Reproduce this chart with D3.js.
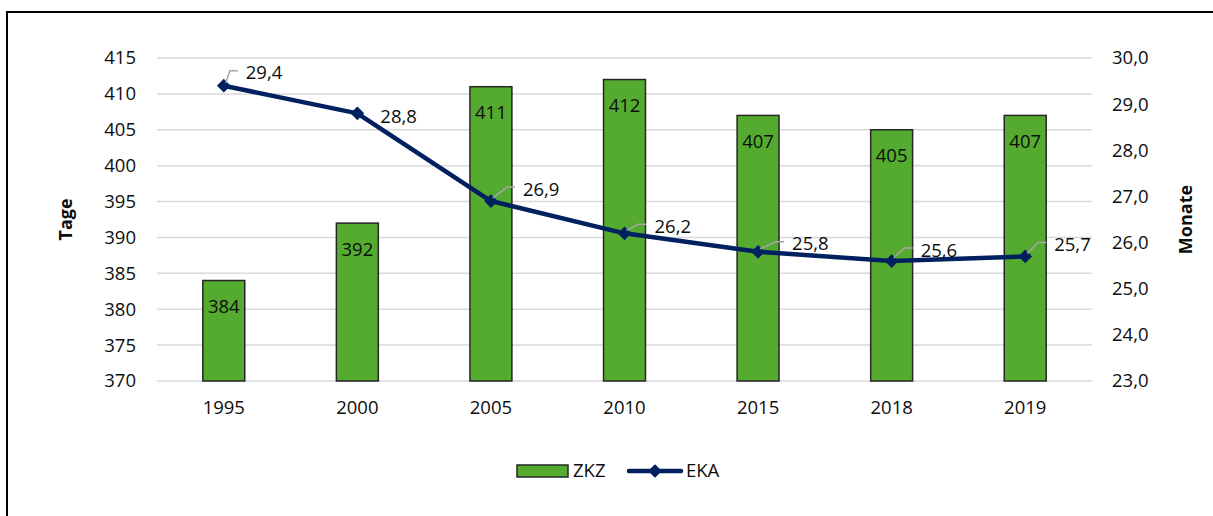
<!DOCTYPE html>
<html>
<head>
<meta charset="utf-8">
<script src="https://cdn.jsdelivr.net/npm/d3@7"></script>
<style>
  body { margin: 0; background: #fff; }
  text { font-family: "Open Sans", "Noto Sans", sans-serif; fill: #0d0d0d; }
</style>
</head>
<body>
<svg id="chart" width="1213" height="516"></svg>
<script>
// chart values
const years = ["1995", "2000", "2005", "2010", "2015", "2018", "2019"];
const zkz = [384, 392, 411, 412, 407, 405, 407];   // Tage
const eka = [29.4, 28.8, 26.9, 26.2, 25.8, 25.6, 25.7]; // Monate
const leftTicks = [370, 375, 380, 385, 390, 395, 400, 405, 410, 415];
const rightTicks = [23, 24, 25, 26, 27, 28, 29, 30];

var svg = d3.select("#chart");
var width = 1213, height = 516;
var margin = {top: 58, right: 121, bottom: 135, left: 157};
var plotBottom = height - margin.bottom;
var fontSize = "18.5px";

var green = "#54ab2f";
var navy = "#002060";

// outer frame (cropped at right and bottom)
svg.append("rect")
  .attr("x", 7).attr("y", 12)
  .attr("width", 1400).attr("height", 700)
  .attr("fill", "none")
  .attr("stroke", "#000")
  .attr("stroke-width", 2);

var x = d3.scaleBand()
  .domain(years)
  .range([margin.left, width - margin.right])
  .paddingInner(0.686)
  .paddingOuter(0.343);

var yLeft = d3.scaleLinear()
  .domain([370, 415])
  .range([plotBottom, margin.top]);

var yRight = d3.scaleLinear()
  .domain([23, 30])
  .range([plotBottom, margin.top]);

var fmt = function(v) { return d3.format(".1f")(v).replace(".", ","); };

// gridlines
svg.append("g")
  .selectAll("line")
  .data(leftTicks)
  .enter().append("line")
  .attr("x1", margin.left)
  .attr("x2", width - margin.right)
  .attr("y1", function(d) { return yLeft(d); })
  .attr("y2", function(d) { return yLeft(d); })
  .attr("stroke", "#d9d9d9")
  .attr("stroke-width", 1.5);

// left axis
var gl = svg.append("g")
  .attr("transform", "translate(" + margin.left + ",0)")
  .call(d3.axisLeft(yLeft).tickValues(leftTicks).tickSize(0).tickPadding(21));
gl.select(".domain").remove();
gl.selectAll("text").style("font-size", fontSize).attr("fill", "#0d0d0d");

// right axis
var gr = svg.append("g")
  .attr("transform", "translate(" + (width - margin.right) + ",0)")
  .call(d3.axisRight(yRight).tickValues(rightTicks).tickSize(0).tickPadding(20).tickFormat(fmt));
gr.select(".domain").remove();
gr.selectAll("text").style("font-size", fontSize).attr("fill", "#0d0d0d");

// bottom axis
var gb = svg.append("g")
  .attr("transform", "translate(0," + plotBottom + ")")
  .call(d3.axisBottom(x).tickSize(0).tickPadding(20));
gb.select(".domain").remove();
gb.selectAll("text").style("font-size", fontSize).attr("fill", "#0d0d0d");

// axis titles
svg.append("text")
  .attr("transform", "translate(72," + (margin.top + plotBottom) / 2 + ") rotate(-90)")
  .style("text-anchor", "middle")
  .style("font-size", "18px")
  .style("font-weight", "bold")
  .text("Tage");

svg.append("text")
  .attr("transform", "translate(1192," + (margin.top + plotBottom) / 2 + ") rotate(-90)")
  .style("text-anchor", "middle")
  .style("font-size", "18px")
  .style("font-weight", "bold")
  .text("Monate");

// bars
svg.selectAll(".bar")
  .data(zkz)
  .enter().append("rect")
  .attr("class", "bar")
  .attr("x", function(d, i) { return x(years[i]); })
  .attr("y", function(d) { return yLeft(d); })
  .attr("width", x.bandwidth())
  .attr("height", function(d) { return plotBottom - yLeft(d); })
  .attr("fill", green)
  .attr("stroke", "#262626")
  .attr("stroke-width", 1.5);

svg.selectAll(".bar-label")
  .data(zkz)
  .enter().append("text")
  .attr("class", "bar-label")
  .attr("x", function(d, i) { return x(years[i]) + x.bandwidth() / 2; })
  .attr("y", function(d) { return yLeft(d) + 26; })
  .attr("dy", "0.35em")
  .style("text-anchor", "middle")
  .style("font-size", fontSize)
  .text(function(d) { return d; });

// line
var cx = function(i) { return x(years[i]) + x.bandwidth() / 2; };
var line = d3.line()
  .x(function(d, i) { return cx(i); })
  .y(function(d) { return yRight(d); });

svg.append("path")
  .datum(eka)
  .attr("d", line)
  .attr("fill", "none")
  .attr("stroke", navy)
  .attr("stroke-width", 4.5)
  .attr("stroke-linejoin", "round");

var diamond = d3.symbol().type(d3.symbolDiamond2).size(120);
svg.selectAll(".marker")
  .data(eka)
  .enter().append("path")
  .attr("class", "marker")
  .attr("transform", function(d, i) { return "translate(" + cx(i) + "," + yRight(d) + ")"; })
  .attr("d", diamond)
  .attr("fill", navy);

// label placement (offset from the point, as in the original)
var labelOffset = [[22, -13], [23, 3], [32, -12], [30, -7], [34, -8], [29, -11], [29, -12]];

svg.selectAll(".leader")
  .data(eka)
  .enter().append("path")
  .attr("class", "leader")
  .attr("d", function(d, i) {
    var o = labelOffset[i];
    if (o[1] > 0) return null;
    var px = cx(i), py = yRight(d);
    var tx = px + o[0], ty = py + o[1] - 2;
    return "M" + (px + 2) + "," + (py - 3) + "L" + (tx - 16) + "," + ty + "L" + (tx - 8) + "," + ty;
  })
  .attr("fill", "none")
  .attr("stroke", "#a6a6a6")
  .attr("stroke-width", 1.5);

svg.selectAll(".line-label")
  .data(eka)
  .enter().append("text")
  .attr("class", "line-label")
  .attr("x", function(d, i) { return cx(i) + labelOffset[i][0]; })
  .attr("y", function(d, i) { return yRight(d) + labelOffset[i][1]; })
  .attr("dy", "0.35em")
  .style("font-size", fontSize)
  .text(function(d) { return fmt(d); });

// legend
var legend = svg.append("g").attr("transform", "translate(0,471)");
legend.append("rect")
  .attr("x", 517).attr("y", -6)
  .attr("width", 51).attr("height", 12)
  .attr("fill", green)
  .attr("stroke", "#262626")
  .attr("stroke-width", 1.5);
legend.append("text")
  .attr("x", 573).attr("dy", "0.35em")
  .style("font-size", fontSize)
  .text("ZKZ");
legend.append("line")
  .attr("x1", 629).attr("x2", 681)
  .attr("stroke", navy)
  .attr("stroke-width", 4.5)
  .attr("stroke-linecap", "round");
legend.append("path")
  .attr("transform", "translate(655,0)")
  .attr("d", diamond)
  .attr("fill", navy);
legend.append("text")
  .attr("x", 686).attr("dy", "0.35em")
  .style("font-size", fontSize)
  .text("EKA");
</script>
</body>
</html>
